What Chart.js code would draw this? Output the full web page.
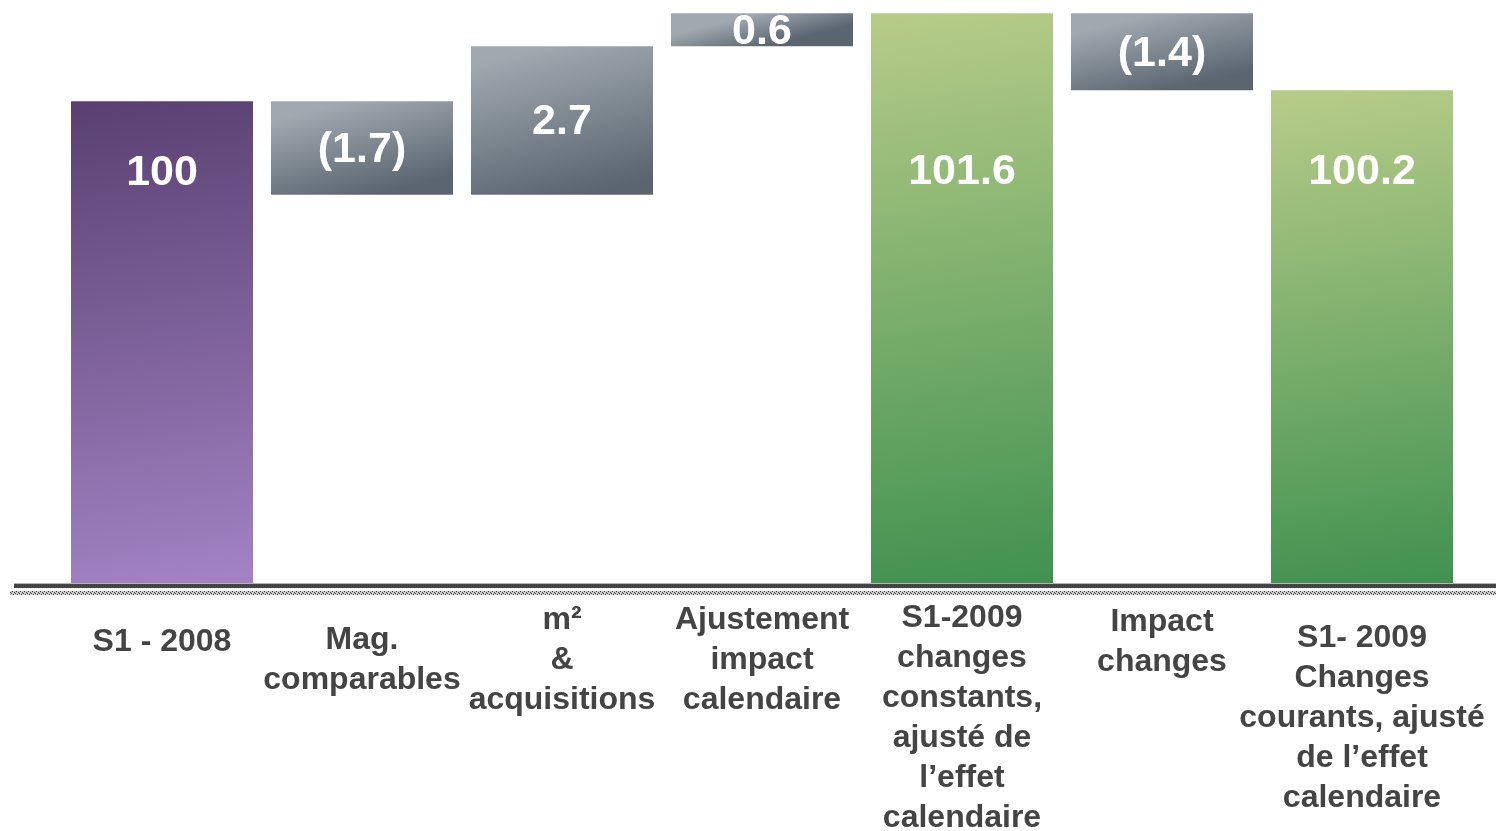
<!DOCTYPE html>
<html>
<head>
<meta charset="utf-8">
<title>Chiffre d'affaires S1 2008 - S1 2009</title>
<script src="https://cdn.jsdelivr.net/npm/chart.js@4/dist/chart.umd.min.js"></script>
<style>
    html, body { margin: 0; padding: 0; background: #fff; }
    #wrap { width: 1496px; height: 831px; position: relative; }
</style>
</head>
<body>
<div id="wrap"><canvas id="bridge"></canvas></div>
<script>
// Categories (multi-line labels under the axis)
const categories = [
    ['S1 - 2008'],
    ['Mag.', 'comparables'],
    ['m²', '&', 'acquisitions'],
    ['Ajustement', 'impact', 'calendaire'],
    ['S1-2009', 'changes', 'constants,', 'ajusté de', 'l’effet', 'calendaire'],
    ['Impact', 'changes'],
    ['S1- 2009', 'Changes', 'courants, ajusté', 'de l’effet', 'calendaire']
];

// Totals are absolute values, deltas move the running total
const values = [100, -1.7, 2.7, 0.6, 101.6, -1.4, 100.2];
const kinds = ['start', 'delta', 'delta', 'delta', 'total', 'delta', 'total'];

// Gradient colours (top, bottom) per bar kind
const palette = {
    start: ['#5a4172', '#a282c3'],
    delta: ['#a0a9b0', '#5b6570'],
    total: ['#b6cb88', '#419250']
};

// Each category caption sits in its own text box, some a bit lower
const captionDrop = [22, 20, 0, 0, -2, 2, 18];

const FONT = '"Liberation Sans", Arial, sans-serif';

// Build floating ranges for the waterfall
let running = 0;
const barData = values.map((v, i) => {
    if (kinds[i] === 'delta') {
        const from = running;
        running = +(running + v).toFixed(2);
        return [from, running];
    }
    running = v;
    return v;
});

const formatValue = (v) => v < 0 ? `(${Math.abs(v).toFixed(1)})` : (Number.isInteger(v) ? String(v) : v.toFixed(1));

function barFill(ctx) {
    const chart = ctx.chart;
    const i = ctx.dataIndex;
    const [c1, c2] = palette[kinds[i]];
    const y = chart.scales.y;
    const x = chart.scales.x;
    if (!chart.chartArea || !y || !x) return c2;
    const d = barData[i];
    const lo = Array.isArray(d) ? Math.min(d[0], d[1]) : y.min;
    const hi = Array.isArray(d) ? Math.max(d[0], d[1]) : d;
    const top = y.getPixelForValue(hi);
    const bottom = y.getPixelForValue(lo);
    const cx = x.getPixelForValue(i);
    // mostly vertical, with a slight lean on the tall bars
    const lean = Math.min(40, (bottom - top) / 8);
    const g = chart.ctx.createLinearGradient(cx - lean, top, cx + lean, bottom);
    g.addColorStop(0, c1);
    g.addColorStop(1, c2);
    return g;
}

// Value labels inside the bars
const valueLabels = {
    id: 'valueLabels',
    afterDatasetsDraw(chart) {
        const { ctx, chartArea } = chart;
        const meta = chart.getDatasetMeta(0);
        ctx.save();
        ctx.fillStyle = '#ffffff';
        ctx.font = `bold 43px ${FONT}`;
        ctx.textAlign = 'center';
        ctx.textBaseline = 'middle';
        meta.data.forEach((bar, i) => {
            const top = Math.min(bar.y, bar.base);
            const bottom = Math.max(bar.y, bar.base);
            let ty;
            if (kinds[i] === 'delta') {
                ty = (top + bottom) / 2 + 2;
            } else {
                ty = Math.max(top + 72, chartArea.top + 172);
            }
            ctx.fillText(formatValue(values[i]), bar.x, ty);
        });
        ctx.restore();
    }
};

// Category captions under the axis
const captions = {
    id: 'captions',
    afterDraw(chart) {
        const { ctx, chartArea } = chart;
        const xs = chart.scales.x;
        ctx.save();
        ctx.fillStyle = '#444444';
        ctx.font = `bold 32px ${FONT}`;
        ctx.textAlign = 'center';
        ctx.textBaseline = 'middle';
        categories.forEach((lines, i) => {
            const cx = xs.getPixelForValue(i);
            const y0 = chartArea.bottom + 35 + captionDrop[i];
            lines.forEach((line, k) => ctx.fillText(line, cx, y0 + k * 40));
        });
        ctx.restore();
    }
};

// Heavy baseline with a hatched band underneath
const baseline = {
    id: 'baseline',
    afterDatasetsDraw(chart) {
        const { ctx, chartArea, width } = chart;
        const b = Math.round(chartArea.bottom);
        ctx.save();
        ctx.fillStyle = '#b5b5b5';
        ctx.fillRect(14, b - 2, width - 14, 1);
        ctx.fillStyle = '#444444';
        ctx.fillRect(14, b - 1, width - 14, 4);
        ctx.fillStyle = '#c8c8c8';
        ctx.fillRect(10, b + 6, width - 10, 4);
        ctx.fillStyle = '#4a4a4a';
        for (let x = 10; x < width; x += 2) {
            ctx.fillRect(x, b + 6 + ((x / 2) % 2), 1, 1);
            ctx.fillRect(x + 1, b + 8 + ((x / 2 + 1) % 2), 1, 1);
        }
        ctx.restore();
    }
};

new Chart(document.getElementById('bridge'), {
    type: 'bar',
    data: {
        labels: categories,
        datasets: [{
            data: barData,
            backgroundColor: barFill,
            borderWidth: 0,
            borderSkipped: false,
            barPercentage: 0.91,
            categoryPercentage: 1.0
        }]
    },
    options: {
        responsive: true,
        maintainAspectRatio: false,
        animation: false,
        layout: { padding: { left: 62, right: 34, top: 0, bottom: 0 } },
        plugins: {
            legend: { display: false },
            tooltip: { enabled: false }
        },
        scales: {
            y: {
                display: false,
                min: 91.2,
                max: 101.84
            },
            x: {
                grid: { display: false, drawTicks: false },
                border: { display: false },
                ticks: { display: false },
                afterFit(scale) { scale.height = 246; }
            }
        }
    },
    plugins: [valueLabels, baseline, captions]
});
</script>
</body>
</html>
